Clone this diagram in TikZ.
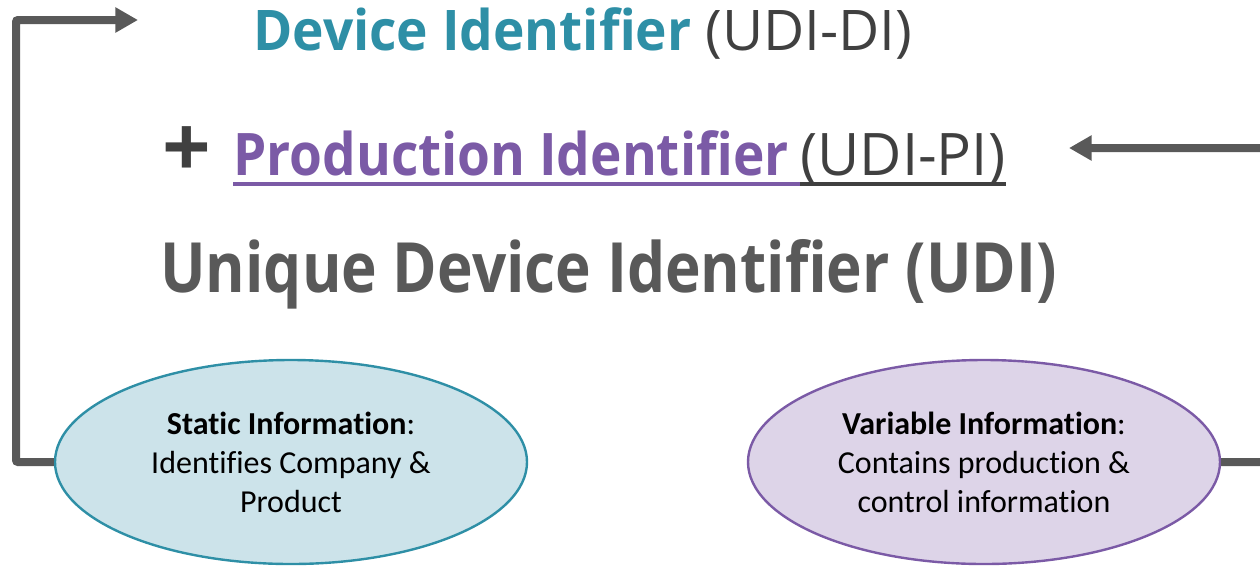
\documentclass[tikz,border=0pt]{standalone}
\usepackage{fontspec}
\setmainfont{Open Sans}
\newfontfamily\calib[Ligatures=CommonOff]{Carlito}
\usetikzlibrary{shapes.geometric,arrows.meta}
\definecolor{tealc}{HTML}{2E8FA6}
\definecolor{purc}{HTML}{7B5AA6}
\definecolor{grayc}{HTML}{595959}
\definecolor{darkc}{HTML}{404040}
\definecolor{tealfill}{HTML}{CCE3EA}
\definecolor{purfill}{HTML}{DDD4E8}
\tikzset{
  txt/.style={inner sep=0pt, anchor=base west},
  conn/.style={draw=grayc, line width=6pt, rounded corners=1.5pt, -{Triangle[length=17pt,width=18pt]}},
  oval/.style={ellipse, line width=1.8pt, minimum width=354pt, minimum height=153pt, inner sep=0pt, align=center,
    font=\calib\fontsize{24}{29.3}\selectfont},
}
\begin{document}
\begin{tikzpicture}[x=0.75pt,y=-0.75pt]
\useasboundingbox (0,0) rectangle (1260,565);
\clip (0,0) rectangle (1260,565);
\node[txt] (da) at (253,50) {\fontsize{42}{50}\selectfont\scalebox{0.95}[1]{\bfseries\color{tealc}Device Identifier}};
\node[txt] (db) at (705,50) {\fontsize{42}{50}\selectfont\scalebox{1.01}[1]{\color{darkc}(UDI-DI)}};
\node[inner sep=0pt] (plus) at (187,152) {\fontsize{64}{70}\selectfont\bfseries\color{darkc}+};
\node[txt] (pa) at (233,175) {\fontsize{44}{50}\selectfont\scalebox{0.906}[1]{\bfseries\color{purc}Production Identifier}};
\node[txt] (pb) at (800,175) {\fontsize{44}{50}\selectfont\scalebox{0.99}[1]{\color{darkc}(UDI-PI)}};
\draw[purc, line width=3pt] ([yshift=-6.5pt]pa.base west) -- ([yshift=-6.5pt]pb.base west);
\draw[darkc, line width=3pt] ([yshift=-6.5pt]pb.base west) -- ([yshift=-6.5pt]pb.base east);
\node[txt] (udi) at (160,292) {\fontsize{52}{60}\selectfont\scalebox{0.87}[1]{\bfseries\color{grayc}Unique Device Identifier (UDI)}};
\node[oval, draw=tealc, fill=tealfill] (s) at (291,462) {\textbf{Static Information}:\\Identifies Company \&\\Product};
\node[oval, draw=purc, fill=purfill] (v) at (984,462) {\textbf{Variable Information}:\\Contains production \&\\control information};
\coordinate (ltop) at (16,20);
\coordinate (ltip) at (138,20);
\coordinate (rtop) at (1275,148);
\coordinate (rtip) at (1069,148);
\draw[conn] (s.west) -| (ltop) -- (ltip);
\draw[conn] (v.east) -| (rtop) -- (rtip);
\end{tikzpicture}
\end{document}
